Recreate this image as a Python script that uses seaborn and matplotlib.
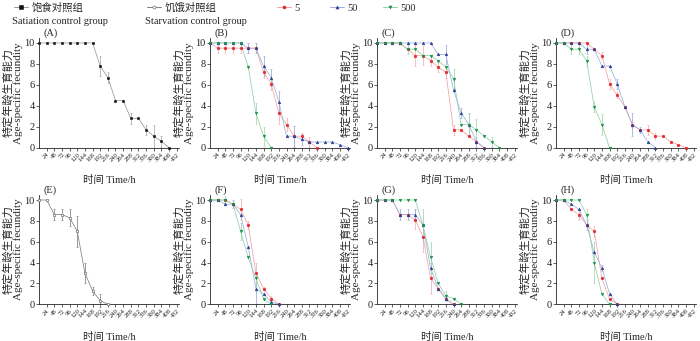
import numpy as np
import pandas as pd
import matplotlib
matplotlib.use("Agg")
import matplotlib.pyplot as plt
from matplotlib.lines import Line2D
import seaborn as sns

# ---------------- data ----------------
TIMES = [0, 24, 48, 72, 96, 120, 144, 168, 192, 216, 240, 264, 288, 312, 336, 360, 384, 408, 432]
XTICKS = [24, 48, 72, 96, 120, 144, 168, 192, 216, 240, 264, 288, 312, 336, 360, 384, 408, 432]
YTICKS = [0, 2, 4, 6, 8, 10]

A_SAT = [10, 10, 10, 10, 10, 10, 10, 10, 7.8, 6.7, 4.5, 4.5, 2.8, 2.8, 1.7, 1.1, 0.6, 0]
A_SAT_ERR = [0, 0, 0, 0, 0, 0, 0, 0, 1.0, 0.5, 0, 0, 0.5, 0, 0.5, 1.1, 0.5, 0]

B_5 = [10, 9.5, 9.5, 9.5, 9.5, 9.5, 9.5, 7.2, 6.1, 3.3, 2.2, 1.1, 1.1, 0.55, 0]
B_5_ERR = [0, 0.5, 0.5, 0.5, 0.5, 0.5, 0.5, 0.5, 0.6, 1.0, 0.6, 1.0, 0.3, 0.5, 0]
B_50 = [10, 10, 10, 10, 10, 9.5, 9.5, 7.8, 6.7, 4.4, 1.1, 1.1, 0.8, 0.55, 0.55, 0.55, 0.55, 0.28, 0]
B_50_ERR = [0, 0, 0, 0, 0, 0.5, 0.5, 1.0, 0.8, 1.0, 0, 1.0, 0.5, 0, 0, 0, 0, 0, 0]
B_500 = [10, 10, 10, 10, 10, 7.7, 3.3, 1.1, 0]
B_500_ERR = [0, 0, 0, 0, 0, 0, 1.0, 0.9, 0]

C_5 = [10, 10, 10, 10, 9.4, 8.8, 8.8, 8.3, 7.7, 7.2, 1.7, 1.7, 1.1, 0.55, 0]
C_5_ERR = [0, 0, 0, 0, 0, 1.0, 0.9, 0.5, 0.5, 0.5, 0.5, 0, 0, 0, 0]
C_50 = [10, 10, 10, 10, 10, 10, 10, 10, 8.9, 8.9, 5.5, 3.3, 2.2, 0.55, 0]
C_50_ERR = [0, 0, 0, 0, 0, 0, 0, 0, 0, 0.9, 0, 0.5, 1.1, 0.5, 0]
C_500 = [10, 10, 10, 10, 9.4, 9.4, 8.8, 8.8, 8.3, 7.7, 6.6, 2.2, 2.2, 1.7, 1.1, 0.55, 0]
C_500_ERR = [0, 0, 0, 0, 0.5, 0, 0, 0, 0, 0, 0.9, 0, 1.1, 1.0, 0, 0.5, 0]

D_5 = [10, 10, 10, 10, 10, 9.4, 8.8, 6.1, 5.0, 3.9, 2.2, 1.7, 1.7, 1.1, 1.1, 0.55, 0.28, 0]
D_5_ERR = [0, 0, 0, 0, 0, 0, 0.3, 0.5, 0.3, 0, 0.3, 0, 0.5, 0.3, 0, 0, 0, 0]
D_50 = [10, 10, 10, 10, 9.4, 9.4, 7.8, 7.8, 6.1, 3.9, 2.2, 1.7, 0.55, 0]
D_50_ERR = [0, 0, 0, 0, 0.5, 0, 0, 0, 0.5, 0, 1.1, 0.3, 0, 0]
D_500 = [10, 10, 9.4, 9.4, 8.3, 3.9, 2.2, 0]
D_500_ERR = [0, 0, 0.5, 0.5, 0.5, 0.5, 1.0, 0]

E_STARV = [10, 10, 8.6, 8.6, 8.3, 7.0, 3.0, 1.3, 0.35, 0]
E_STARV_ERR = [0, 0, 0.5, 0.5, 0.8, 1.5, 1.0, 0.4, 0.6, 0]

F_5 = [10, 10, 10, 9.6, 9.1, 7.6, 3.0, 1.5, 0.55, 0]
F_5_ERR = [0, 0, 0, 0, 1.0, 0.4, 1.0, 0.2, 0.2, 0]
F_50 = [10, 10, 9.6, 9.6, 8.6, 5.5, 1.5, 1.0, 0.2, 0]
F_50_ERR = [0, 0, 0, 0.4, 0, 0, 1.5, 0, 0, 0]
F_500 = [10, 10, 10, 9.6, 7.0, 4.5, 2.5, 0.5, 0]
F_500_ERR = [0, 0, 0.4, 0, 0.8, 0, 0.5, 0, 0]

G_5 = [10, 10, 10, 8.6, 8.6, 8.1, 6.5, 2.5, 1.5, 0.5, 0]
G_5_ERR = [0, 0, 0, 0, 0, 0.9, 1.5, 1.5, 0, 0, 0]
G_50 = [10, 10, 10, 8.6, 8.6, 8.6, 7.6, 3.5, 1.5, 0.55, 0]
G_50_ERR = [0, 0, 0, 0.5, 0.5, 0.5, 0, 0.5, 0, 0, 0]
G_500 = [10, 10, 10, 10, 10, 10, 7.6, 4.5, 2.0, 0.8, 0.55, 0]
G_500_ERR = [0, 0, 0, 0, 0, 0, 1.5, 1.5, 0, 0.5, 0, 0]

H_5 = [10, 10, 9.1, 8.6, 7.6, 7.0, 2.5, 0.5, 0]
H_5_ERR = [0, 0, 0, 0.5, 0, 0.5, 0, 0, 0]
H_50 = [10, 10, 9.6, 9.1, 7.6, 5.0, 3.5, 1.0, 0]
H_50_ERR = [0, 0, 0, 0, 0.5, 0, 0.3, 0, 0]
H_500 = [10, 10, 10, 10, 8.6, 4.0, 1.0, 0]
H_500_ERR = [0, 0, 0, 0, 0.5, 2.0, 0, 0]

LABELS = ["(A)", "(B)", "(C)", "(D)", "(E)", "(F)", "(G)", "(H)"]
SERIES_NAMES = ["sat", "starv", "5", "50", "500"]
LEGEND_CN = ["饱食对照组", "饥饿对照组", "5", "50", "500"]
LEGEND_EN = ["Satiation control group", "Starvation control group", "", "", ""]

# ---------------- styling ----------------
STYLE = {
    "sat":   dict(m="s", face="#111111", edge="#111111", line="#9a9a9a", ecol="#b0b0b0"),
    "starv": dict(m="o", face="white",   edge="#555555", line="#808080", ecol="#8a8a8a"),
    "5":     dict(m="o", face="#e3262b", edge="#e3262b", line="#f2a3a3", ecol="#f5b5b5"),
    "50":    dict(m="^", face="#2c3f98", edge="#2c3f98", line="#9cafe0", ecol="#a2b2dc"),
    "500":   dict(m="v", face="#18964a", edge="#18964a", line="#93cfa5", ecol="#abd6b6"),
}

PANELS = [
    [("sat", A_SAT, A_SAT_ERR)],
    [("5", B_5, B_5_ERR), ("50", B_50, B_50_ERR), ("500", B_500, B_500_ERR)],
    [("5", C_5, C_5_ERR), ("50", C_50, C_50_ERR), ("500", C_500, C_500_ERR)],
    [("5", D_5, D_5_ERR), ("50", D_50, D_50_ERR), ("500", D_500, D_500_ERR)],
    [("starv", E_STARV, E_STARV_ERR)],
    [("5", F_5, F_5_ERR), ("50", F_50, F_50_ERR), ("500", F_500, F_500_ERR)],
    [("5", G_5, G_5_ERR), ("50", G_50, G_50_ERR), ("500", G_500, G_500_ERR)],
    [("5", H_5, H_5_ERR), ("50", H_50, H_50_ERR), ("500", H_500, H_500_ERR)],
]

sns.set_theme(style="ticks")
plt.rcParams["font.family"] = ["Liberation Serif", "Noto Sans CJK SC"]
plt.rcParams["axes.linewidth"] = 0.6

W, H = 700, 341
fig = plt.figure(figsize=(W / 100, H / 100), dpi=100)

lefts = [39, 210, 377, 556]
rows = [(37.7, 147.7), (194.8, 304.3)]
XMAX = 440
width_px = 137.7 * XMAX / 432

for k, series in enumerate(PANELS):
    r, c = divmod(k, 4)
    top, bot = rows[r]
    ax = fig.add_axes([lefts[c] / W, 1 - bot / H, width_px / W, (bot - top) / H])
    for name, vals, errs in series:
        st = STYLE[name]
        df = pd.DataFrame({"t": TIMES[:len(vals)], "v": vals, "e": errs})
        ax.errorbar(df["t"], df["v"], yerr=df["e"], fmt="none", ecolor=st["ecol"],
                    elinewidth=0.6, capsize=1.0, capthick=0.5, zorder=1, clip_on=False)
        sns.lineplot(data=df, x="t", y="v", ax=ax, color=st["line"], lw=0.55,
                     zorder=2, legend=False, errorbar=None)
        sns.scatterplot(data=df, x="t", y="v", ax=ax, marker=st["m"], s=3.5,
                        color=st["face"], edgecolor=st["edge"], linewidth=0.4,
                        zorder=3, legend=False, clip_on=False)
    ax.set_xlim(0, XMAX)
    ax.set_ylim(0, 10.5)
    ax.set_xticks(XTICKS)
    ax.set_xticklabels([str(v) for v in XTICKS], rotation=45, ha="right",
                       rotation_mode="anchor", fontsize=4.8)
    ax.set_yticks(YTICKS)
    ax.set_yticklabels([str(v) for v in YTICKS], fontsize=7.5)
    ax.tick_params(axis="both", length=2, width=0.5, pad=1, colors="#222222")
    ax.set_ylabel("特定年龄生育能力\nAge-specific fecundity", fontsize=8,
                  labelpad=1, linespacing=1.0)
    ax.set_xlabel("时间 Time/h", fontsize=7.5, labelpad=9)
    sns.despine(ax=ax)
    ax.text(0.03, 1.0, LABELS[k], transform=ax.transAxes, ha="left", va="bottom",
            fontsize=7.5)

# legend along the top
leg_x = [14, 147, 277, 330, 383]
for name, cn, en, x in zip(SERIES_NAMES, LEGEND_CN, LEGEND_EN, leg_x):
    st = STYLE[name]
    h = Line2D([], [], color=st["line"], lw=0.7, marker=st["m"], markersize=2.2,
               markerfacecolor=st["face"], markeredgecolor=st["edge"], markeredgewidth=0.4)
    fig.legend([h], [cn], loc="center left", bbox_to_anchor=(x / W, 1 - 8 / H),
               frameon=False, fontsize=7.5, handlelength=1.3, handletextpad=0.4,
               borderpad=0, borderaxespad=0)
    if en:
        fig.text(x / W - 0.003, 1 - 21 / H, en, fontsize=7.5, ha="left", va="center")

fig.savefig("out.png", dpi=100)
